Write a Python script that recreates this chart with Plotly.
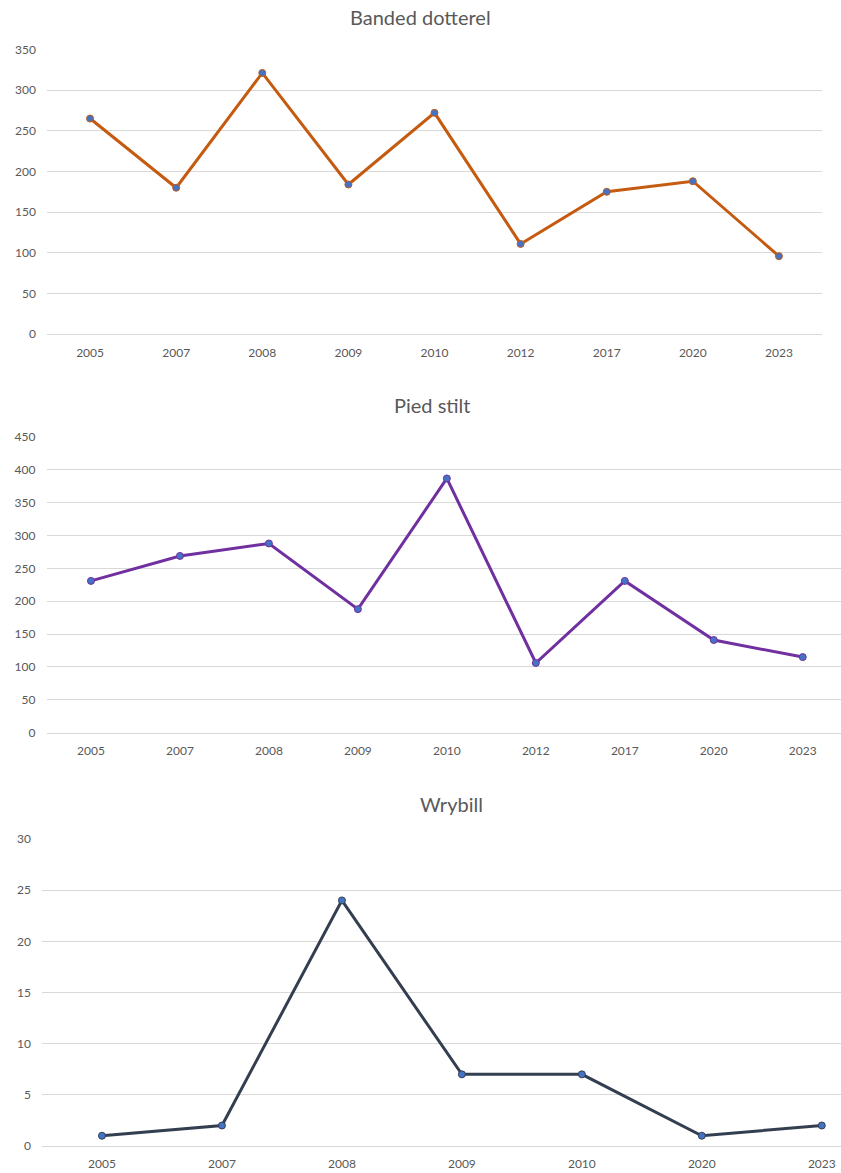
import plotly.graph_objects as go

# ---- data ----
dotterel_years = ["2005", "2007", "2008", "2009", "2010", "2012", "2017", "2020", "2023"]
dotterel_counts = [265, 180, 321, 184, 272, 111, 175, 188, 96]

stilt_years = ["2005", "2007", "2008", "2009", "2010", "2012", "2017", "2020", "2023"]
stilt_counts = [231, 269, 288, 188, 387, 106, 231, 141, 115]

wrybill_years = ["2005", "2007", "2008", "2009", "2010", "2020", "2023"]
wrybill_counts = [1, 2, 24, 7, 7, 1, 2]

titles = ["Banded dotterel", "Pied stilt", "Wrybill"]
line_colors = ["#C55A11", "#7030A0", "#333F50"]
marker_color = "#4472C4"

W, H = 841, 1173
FONT = "Lato, Carlito, Calibri, 'Liberation Sans', sans-serif"
TXT = "#595959"
GRID = "#D9D9D9"

# observed page offset / scale of the rendered snapshot
Y_OFF, Y_SPAN = 8.0, 1157.0

def fx(px):
    return px / W

def fy(py):
    return 1 - (py - Y_OFF) / Y_SPAN

fig = go.Figure()

series = [
    (dotterel_years, dotterel_counts),
    (stilt_years, stilt_counts),
    (wrybill_years, wrybill_counts),
]
# pixel boxes in the target picture: (left, right, top, bottom)
boxes = [(47, 822, 49.3, 334), (46.5, 841, 436.7, 732), (42, 841, 838.3, 1145)]
yranges = [(0, 350, 50), (0, 450, 50), (0, 30, 5)]
xranges = [(-0.5, 8.5), (-0.5, 8.43), (-0.5, 6.16)]
title_pos = [(420, 17), (433, 405), (452, 803)]

for i, ((xs, ys), (l, r, t, b), (y0, y1, dt), xr, (tx, ty)) in enumerate(
        zip(series, boxes, yranges, xranges, title_pos)):
    n = "" if i == 0 else str(i + 1)
    fig.add_trace(go.Scatter(
        x=xs, y=ys, mode="lines+markers",
        xaxis="x" + n, yaxis="y" + n,
        line=dict(color=line_colors[i], width=3),
        marker=dict(size=7, color=marker_color,
                    line=dict(color=line_colors[i], width=1)),
        showlegend=False, cliponaxis=False,
    ))
    fig.update_layout(**{
        "xaxis" + n: dict(
            domain=[fx(l), min(fx(r), 1)], anchor="y" + n,
            type="category", range=list(xr),
            showgrid=False, zeroline=False,
            showline=True, linecolor=GRID, linewidth=1,
            ticks="", ticklabelstandoff=7,
            tickfont=dict(family=FONT, size=12, color=TXT),
        ),
        "yaxis" + n: dict(
            domain=[fy(b), fy(t)], anchor="x" + n,
            range=[y0, y1], dtick=dt, tick0=0,
            showgrid=True, gridcolor=GRID, gridwidth=1,
            zeroline=False, showline=False,
            ticks="", ticklabelstandoff=10,
            tickfont=dict(family=FONT, size=12, color=TXT),
        ),
    })
    fig.add_annotation(
        text=titles[i], x=fx(tx), y=fy(ty), xref="paper", yref="paper",
        xanchor="center", yanchor="middle", showarrow=False,
        font=dict(family=FONT, size=20, color=TXT),
    )

fig.update_layout(
    width=W, height=H,
    margin=dict(l=0, r=0, t=0, b=0),
    paper_bgcolor="white", plot_bgcolor="white",
)

fig.write_html(
    "out.html",
    config={"displayModeBar": False},
    post_script="document.documentElement.style.margin='0';document.body.style.margin='0';document.body.style.overflow='hidden';",
)
